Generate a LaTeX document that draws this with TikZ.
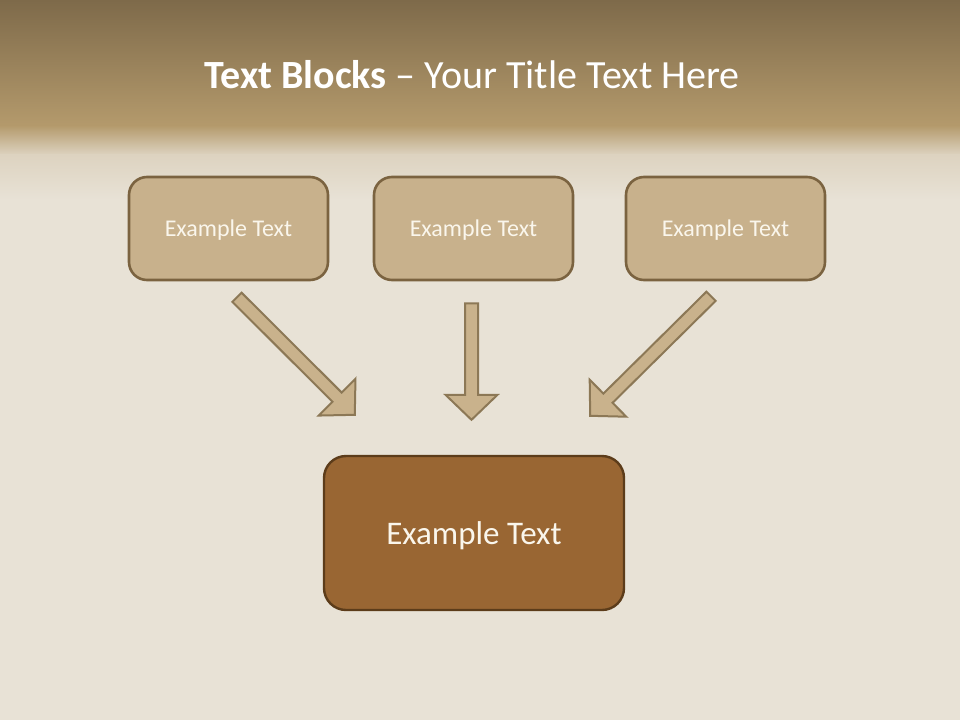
\documentclass[tikz,border=0pt]{standalone}
\usepackage{fontspec}
\setmainfont{Carlito}
\usetikzlibrary{calc}
\definecolor{bgcol}{HTML}{E8E2D6}
\definecolor{bartop}{HTML}{7E6A4A}
\definecolor{barbot}{HTML}{B49A6C}
\definecolor{fadeend}{HTML}{DDD3C0}
\definecolor{boxfill}{HTML}{C8B18C}
\definecolor{boxline}{HTML}{7B6340}
\definecolor{mainfill}{HTML}{996633}
\definecolor{mainline}{HTML}{5C3C1A}
\definecolor{txtcol}{HTML}{FAF6EC}
\definecolor{arrfill}{HTML}{C9B28C}
\definecolor{arrline}{HTML}{8C7856}
\newcommand\blockarrow[2]{%
  \draw[arrowshape]
    ($(#1)!6.5pt!90:(#2)$) --
    ($($(#2)!25pt!(#1)$)!6.5pt!90:(#2)$) --
    ($($(#2)!25pt!(#1)$)!26pt!90:(#2)$) --
    (#2) --
    ($($(#2)!25pt!(#1)$)!26pt!-90:(#2)$) --
    ($($(#2)!25pt!(#1)$)!6.5pt!-90:(#2)$) --
    ($(#1)!6.5pt!-90:(#2)$) -- cycle;}
\tikzset{
  smallbox/.style={draw=boxline, line width=2.6pt, fill=boxfill, rounded corners=18pt,
    minimum width=199pt, minimum height=103pt, inner sep=0pt, text=txtcol,
    text depth=0pt, font=\fontsize{24}{28}\selectfont},
  mainbox/.style={draw=mainline, line width=2.4pt, fill=mainfill, rounded corners=22pt,
    minimum width=300pt, minimum height=154pt, inner sep=0pt, text=txtcol,
    text depth=0pt, font=\fontsize{33}{38}\selectfont},
  arrowshape/.style={draw=arrline, line width=2pt, fill=arrfill, line join=miter},
  titletext/.style={text=white, font=\fontsize{40}{46}\selectfont, inner sep=0pt}
}
\begin{document}
\begin{tikzpicture}[x=1pt,y=-1pt]
\useasboundingbox (0,0) rectangle (960,720);
% background
\fill[bgcol] (0,0) rectangle (960,720);
\shade[top color=bartop, bottom color=barbot] (0,0) rectangle (960,126);
\shade[top color=barbot, bottom color=fadeend] (0,125.5) rectangle (960,155);
\shade[top color=fadeend, bottom color=bgcol] (0,154.5) rectangle (960,200);
% title
\node[titletext] (title) at (472,75) {\textbf{Text Blocks} – Your Title Text Here};
% boxes
\node[smallbox] (b1) at (228.5,228.5) {Example Text};
\node[smallbox] (b2) at (473.5,228.5) {Example Text};
\node[smallbox] (b3) at (725.5,228.5) {Example Text};
\node[mainbox] (m) at (474,533) {Example Text};
% arrow ends
\coordinate (t1) at ($(b1.south)+(8.5,16)$);
\coordinate (p1) at ($(m.north west)+(32,-40)$);
\coordinate (t2) at ($(b2.south)+(-2,22)$);
\coordinate (p2) at ($(m.north)+(-2.5,-35)$);
\coordinate (t3) at ($(b3.south)+(-14.5,15)$);
\coordinate (p3) at ($(m.north east)+(-35,-39)$);
\blockarrow{t1}{p1}
\blockarrow{t2}{p2}
\blockarrow{t3}{p3}
\end{tikzpicture}
\end{document}
